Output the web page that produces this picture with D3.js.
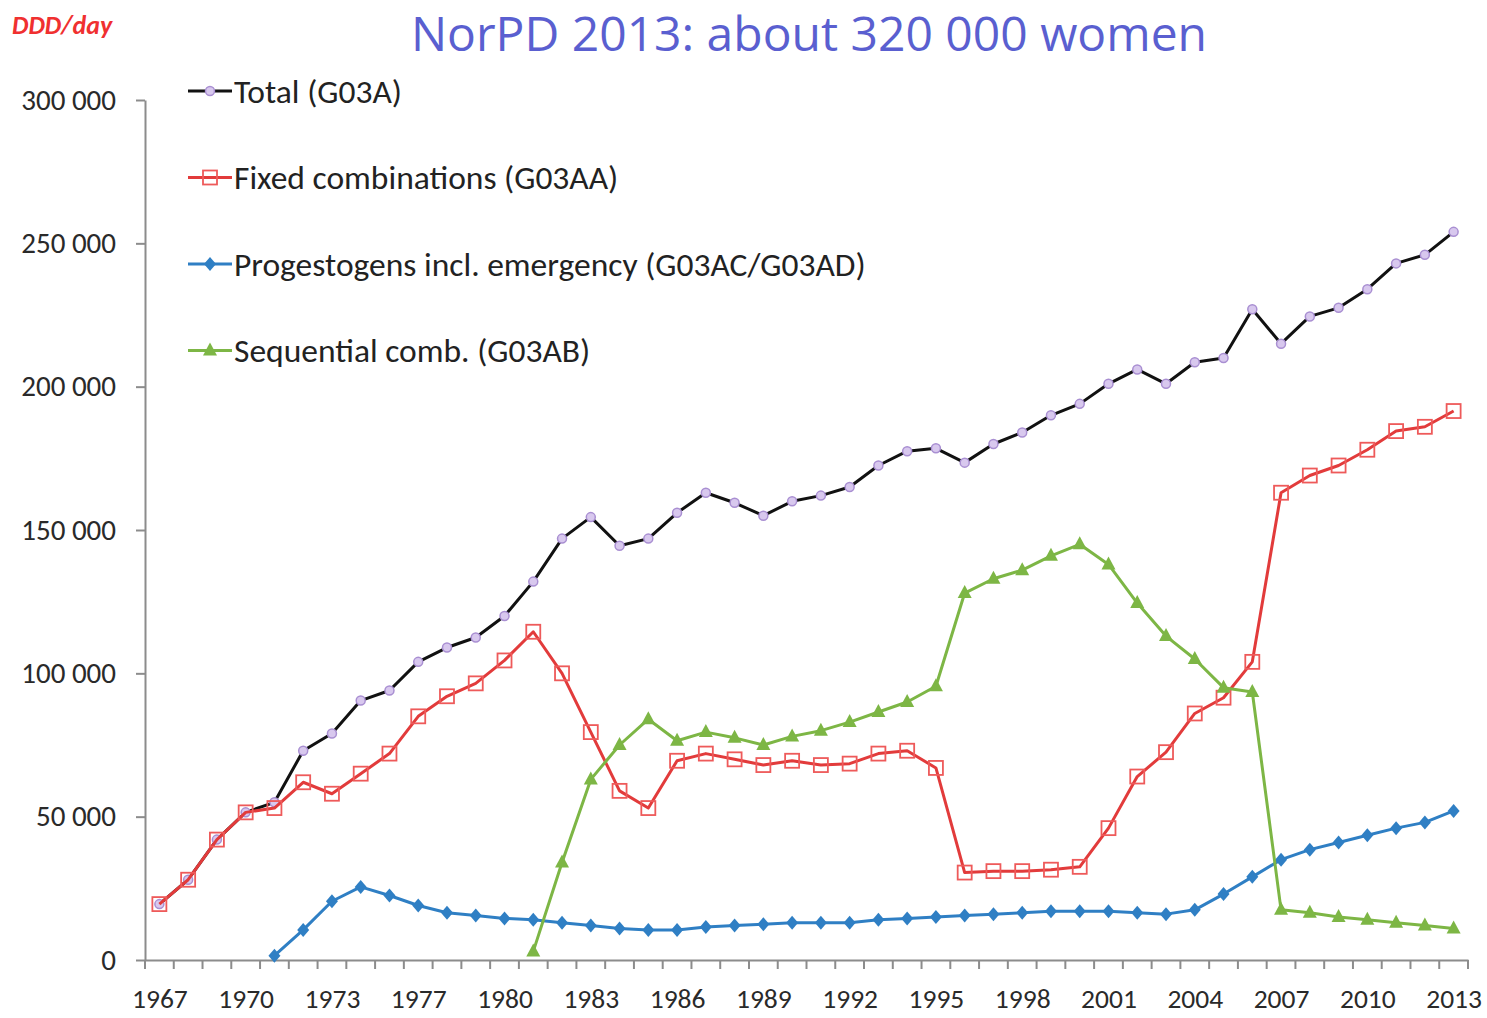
<!DOCTYPE html>
<html>
<head>
<meta charset="utf-8">
<script src="https://cdn.jsdelivr.net/npm/d3@7"></script>
<style>
  body { margin: 0; background: #fff; }
  svg { display: block; }
</style>
</head>
<body>
<script>
var width = 1487;
var height = 1018;

// categories (1976 is not in the source table)
var years = [1967, 1968, 1969, 1970, 1971, 1972, 1973, 1974, 1975,
    1977, 1978, 1979, 1980, 1981, 1982, 1983, 1984, 1985, 1986, 1987, 1988, 1989,
    1990, 1991, 1992, 1993, 1994, 1995, 1996, 1997, 1998, 1999, 2000, 2001, 2002,
    2003, 2004, 2005, 2006, 2007, 2008, 2009, 2010, 2011, 2012, 2013];

var total = [19500, 28000, 42000, 51500, 55000, 73000, 79000, 90500, 94000,
    104000, 109000, 112500, 120000, 132000, 147000, 154500, 144500, 147000, 156000, 163000, 159500, 155000,
    160000, 162000, 165000, 172500, 177500, 178500, 173500, 180000, 184000, 190000, 194000, 201000, 206000,
    201000, 208500, 210000, 227000, 215000, 224500, 227500, 234000, 243000, 246000, 254000];

var fixed = [19500, 28000, 42000, 51500, 53000, 62000, 58000, 65000, 72000,
    85000, 92000, 96500, 104500, 114500, 100000, 79500, 59000, 53000, 69500, 72000, 70000, 68000,
    69500, 68000, 68500, 72000, 73000, 67000, 30500, 31000, 31000, 31500, 32500, 46000, 64000,
    72500, 86000, 91500, 104000, 163000, 169000, 172500, 178000, 184500, 186000, 191500];

var progestogens = [null, null, null, null, 1500, 10500, 20500, 25500, 22500,
    19000, 16500, 15500, 14500, 14000, 13000, 12000, 11000, 10500, 10500, 11500, 12000, 12500,
    13000, 13000, 13000, 14000, 14500, 15000, 15500, 16000, 16500, 17000, 17000, 17000, 16500,
    16000, 17500, 23000, 29000, 35000, 38500, 41000, 43500, 46000, 48000, 52000];

var sequential = [null, null, null, null, null, null, null, null, null,
    null, null, null, null, 3000, 34000, 63000, 75000, 84000, 76500, 79500, 77500, 75000,
    78000, 80000, 83000, 86500, 90000, 95500, 128000, 133000, 136000, 141000, 145000, 138000, 124500,
    113000, 105000, 95000, 93500, 17500, 16500, 15000, 14000, 13000, 12000, 11000];

var yTicks = [0, 50000, 100000, 150000, 200000, 250000, 300000];

var seriesNames = ['Total (G03A)', 'Fixed combinations (G03AA)',
    'Progestogens incl. emergency (G03AC/G03AD)', 'Sequential comb. (G03AB)'];

var series = [
    { name: seriesNames[0], values: total, color: '#111111', marker: 'circle' },
    { name: seriesNames[1], values: fixed, color: '#e23b3b', marker: 'square' },
    { name: seriesNames[2], values: progestogens, color: '#2f7fc4', marker: 'diamond' },
    { name: seriesNames[3], values: sequential, color: '#7db645', marker: 'triangle' }
];

var plotLeft = 145, plotRight = 1468, plotTop = 100, plotBottom = 960;

var svg = d3.select('body')
    .append('svg')
    .attr('width', width)
    .attr('height', height);

var x = d3.scalePoint()
    .domain(years)
    .range([plotLeft, plotRight])
    .padding(0.5);

var y = d3.scaleLinear()
    .domain([0, 300000])
    .range([plotBottom, plotTop]);

var font = "Calibri, Carlito, 'Liberation Sans Narrow', 'Open Sans', sans-serif";

// title + unit
svg.append('text')
    .attr('x', 809)
    .attr('y', 51)
    .attr('text-anchor', 'middle')
    .attr('fill', '#5a5fd0')
    .style('font-family', "'Open Sans', sans-serif")
    .style('font-size', '48px')
    .text('NorPD 2013: about 320 000 women');

svg.append('text')
    .attr('x', 12)
    .attr('y', 34)
    .attr('fill', '#f03030')
    .style('font-family', font)
    .style('font-style', 'italic')
    .style('font-weight', 'bold')
    .style('font-size', '26px')
    .text('DDD/day');

// y axis
var yAxis = svg.append('g')
    .attr('transform', 'translate(' + plotLeft + ',0)')
    .call(d3.axisLeft(y)
        .tickValues(yTicks)
        .tickSize(9)
        .tickSizeOuter(0)
        .tickPadding(20)
        .tickFormat(function (d) {
            return d3.format(',')(d).replace(/,/g, ' ');
        }));

// x axis: labels every third year, ticks between categories
var step = x.step();
var xAxis = svg.append('g')
    .attr('transform', 'translate(0,' + plotBottom + ')')
    .call(d3.axisBottom(x)
        .tickValues(years.filter(function (d, i) { return i % 3 === 0; }))
        .tickSize(0)
        .tickSizeOuter(0)
        .tickPadding(28));

function boundary(i) {
    return i < years.length ? x(years[i]) - step / 2 : x(years[years.length - 1]) + step / 2;
}

xAxis.selectAll('.tick-between')
    .data(d3.range(years.length + 1))
    .enter()
    .append('line')
    .attr('class', 'tick-between')
    .attr('x1', boundary)
    .attr('x2', boundary)
    .attr('y1', 0)
    .attr('y2', 9);

[yAxis, xAxis].forEach(function (g) {
    g.selectAll('path, line').attr('stroke', '#8c8c8c').attr('stroke-width', 2);
    g.selectAll('text')
        .attr('fill', '#2a2a2a')
        .style('font-family', font)
        .style('font-size', '27.5px');
});
yAxis.selectAll('text').style('font-size', '29px');

// lines
var line = d3.line()
    .defined(function (d) { return d.v !== null; })
    .x(function (d) { return x(d.year); })
    .y(function (d) { return y(d.v); });

function drawMarker(g, type, color) {
    if (type === 'circle') {
        g.append('circle').attr('r', 4.5)
            .attr('fill', '#d8c8ee').attr('stroke', '#a98fd2').attr('stroke-width', 1.5);
    } else if (type === 'square') {
        g.append('rect').attr('x', -7).attr('y', -7).attr('width', 14).attr('height', 14)
            .attr('fill', 'none').attr('stroke', '#ee5a5a').attr('stroke-width', 1.8);
    } else if (type === 'diamond') {
        g.append('path').attr('d', 'M0,-7L6,0L0,7L-6,0Z').attr('fill', color);
    } else {
        g.append('path').attr('d', 'M0,-8L7,5L-7,5Z').attr('fill', color);
    }
}

series.forEach(function (s) {
    var pts = years.map(function (yr, i) { return { year: yr, v: s.values[i] }; });

    svg.append('path')
        .datum(pts)
        .attr('fill', 'none')
        .attr('stroke', s.color)
        .attr('stroke-width', 3)
        .attr('stroke-linejoin', 'round')
        .attr('d', line);

    svg.selectAll(null)
        .data(pts.filter(function (d) { return d.v !== null; }))
        .enter()
        .append('g')
        .attr('transform', function (d) { return 'translate(' + x(d.year) + ',' + y(d.v) + ')'; })
        .each(function () { drawMarker(d3.select(this), s.marker, s.color); });
});

// legend
var legend = svg.selectAll('.legend')
    .data(series)
    .enter()
    .append('g')
    .attr('class', 'legend')
    .attr('transform', function (d, i) { return 'translate(188,' + (91 + i * 86.5) + ')'; });

legend.append('line')
    .attr('x1', 0).attr('x2', 44)
    .attr('stroke', function (d) { return d.color; })
    .attr('stroke-width', 3);

legend.append('g')
    .attr('transform', 'translate(22,0)')
    .each(function (d) { drawMarker(d3.select(this), d.marker, d.color); });

legend.append('text')
    .attr('x', 46)
    .attr('dy', '0.35em')
    .attr('fill', '#222')
    .style('font-family', font)
    .style('font-size', '33.5px')
    .text(function (d) { return d.name; });
</script>
</body>
</html>
